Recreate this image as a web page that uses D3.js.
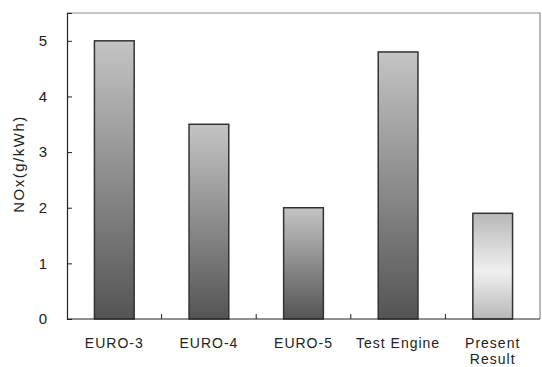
<!DOCTYPE html>
<html>
<head>
<meta charset="utf-8">
<script src="https://cdn.jsdelivr.net/npm/d3@7"></script>
<style>
  html, body { margin: 0; padding: 0; background: #fff; }
  svg { display: block; font-family: "Liberation Sans", Arial, sans-serif; }
</style>
</head>
<body>
<svg id="chart" width="542" height="367"></svg>
<script>
// NOx emissions by standard / engine
const categories = ["EURO-3", "EURO-4", "EURO-5", "Test Engine", "Present Result"];
const noxValues = [5.0, 3.5, 2.0, 4.8, 1.9];
const yTicks = [0, 1, 2, 3, 4, 5];
const yTitle = "NOx(g/kWh)";

const svg = d3.select("#chart");
const margin = { left: 67, right: 2, top: 13, bottom: 48 };
const W = 542, H = 367;
const x0 = margin.left, x1 = W - margin.right;
const y0 = H - margin.bottom, y1 = margin.top;

const x = d3.scaleBand().domain(categories).range([x0, x1]).paddingInner(0.58).paddingOuter(0.29);
const xb = d3.scaleBand().domain(categories).range([x0, x1]);
const y = d3.scaleLinear().domain([0, 5.5]).range([y0, y1]);

// gradients
const defs = svg.append("defs");
const g1 = defs.append("linearGradient").attr("id", "gDark").attr("x1", 0).attr("y1", 0).attr("x2", 0).attr("y2", 1);
g1.append("stop").attr("offset", "0%").attr("stop-color", "#c4c4c4");
g1.append("stop").attr("offset", "100%").attr("stop-color", "#545454");
const g2 = defs.append("linearGradient").attr("id", "gLight").attr("x1", 0).attr("y1", 0).attr("x2", 0).attr("y2", 1);
g2.append("stop").attr("offset", "0%").attr("stop-color", "#b8b8b8");
g2.append("stop").attr("offset", "55%").attr("stop-color", "#f0f0f0");
g2.append("stop").attr("offset", "100%").attr("stop-color", "#b8b8b8");

// plot frame (top and right)
svg.append("path")
  .attr("d", `M${x0},${y1}H${x1}V${y0}`)
  .attr("fill", "none").attr("stroke", "#8a8a8a").attr("stroke-width", 1.2);

// bars
svg.append("g").selectAll("rect").data(categories).join("rect")
  .attr("x", d => x(d))
  .attr("width", x.bandwidth())
  .attr("y", (d, i) => y(noxValues[i]))
  .attr("height", (d, i) => y0 - y(noxValues[i]))
  .attr("fill", (d, i) => i === categories.length - 1 ? "url(#gLight)" : "url(#gDark)")
  .attr("stroke", "#333").attr("stroke-width", 1.5);

// y axis
const yAxis = d3.axisLeft(y).tickValues(yTicks).tickSize(-5).tickPadding(20).tickFormat(d3.format("d"));
const gy = svg.append("g").attr("transform", `translate(${x0},0)`).call(yAxis);
gy.select(".domain").attr("stroke", "#222").attr("stroke-width", 1.2);
gy.selectAll(".tick line").attr("stroke", "#222");
gy.selectAll(".tick text").attr("font-size", 15).attr("fill", "#222");

// x axis: ticks sit between categories
const gx = svg.append("g").attr("transform", `translate(0,${y0})`);
gx.append("line").attr("x1", x0).attr("x2", x1).attr("stroke", "#222").attr("stroke-width", 1.2);
gx.selectAll("line.tk").data(categories.slice(1)).join("line").attr("class", "tk")
  .attr("x1", d => xb(d)).attr("x2", d => xb(d)).attr("y1", 0).attr("y2", -5)
  .attr("stroke", "#222");
gx.selectAll("text").data(categories).join("text")
  .attr("text-anchor", "middle").attr("font-size", 14).attr("letter-spacing", 1).attr("fill", "#222")
  .each(function(d) {
    const cx = xb(d) + xb.bandwidth() / 2;
    const words = d === "Present Result" ? ["Present", "Result"] : [d];
    const t = d3.select(this);
    words.forEach((w, i) => t.append("tspan").attr("x", cx).attr("y", 29 + i * 16).text(w));
  });

// y title
svg.append("text")
  .attr("transform", `translate(24,164) rotate(-90)`)
  .attr("text-anchor", "middle").attr("font-size", 15).attr("letter-spacing", 1.5).attr("fill", "#222")
  .text(yTitle);
</script>
</body>
</html>
